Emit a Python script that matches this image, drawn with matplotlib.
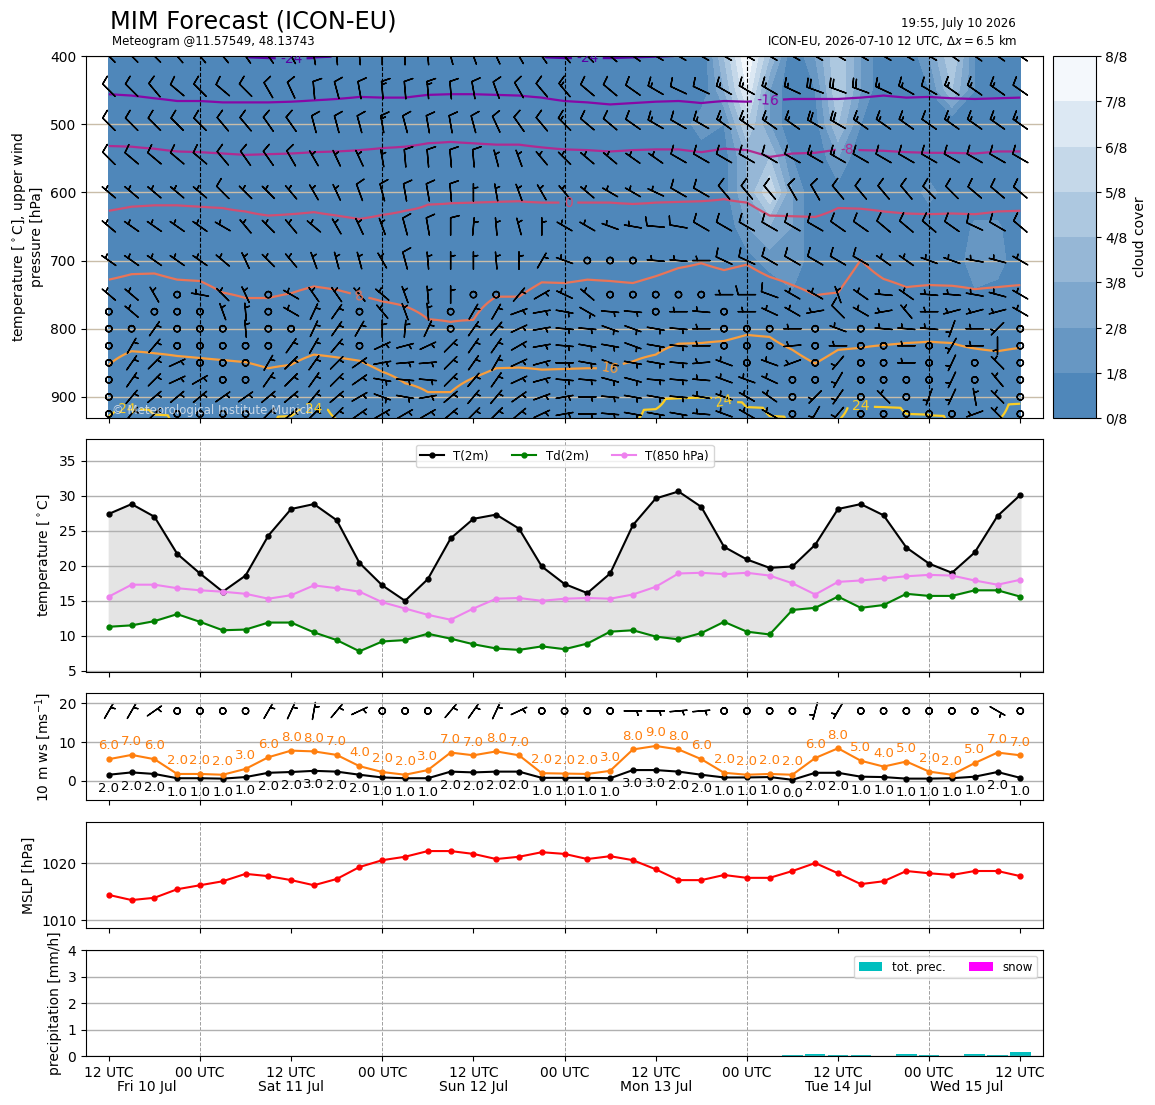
import numpy as np
import matplotlib
matplotlib.use("Agg")
import matplotlib.pyplot as plt
from matplotlib.colors import ListedColormap, to_rgb

# forecast steps (hours after 2026-07-10 12 UTC, every 3 h)
hours = np.arange(0, 121, 3)

time_ticks = [0, 12, 24, 36, 48, 60, 72, 84, 96, 108, 120]
time_labels = ["12 UTC", "00 UTC", "12 UTC", "00 UTC", "12 UTC", "00 UTC",
               "12 UTC", "00 UTC", "12 UTC", "00 UTC", "12 UTC"]
midnights = [12, 36, 60, 84, 108]
day_pos = [5, 24, 48, 72, 96, 113]
day_labels = ["Fri 10 Jul", "Sat 11 Jul", "Sun 12 Jul", "Mon 13 Jul", "Tue 14 Jul", "Wed 15 Jul"]

# ---- surface data
t2m = [27.4, 28.8, 27.0, 21.7, 18.9, 16.3, 18.6, 24.3, 28.1, 28.8, 26.5, 20.4, 17.2, 15.0,
       18.1, 23.9, 26.7, 27.3, 25.3, 19.9, 17.4, 16.1, 18.9, 25.8, 29.6, 30.6, 28.4, 22.7,
       20.9, 19.7, 19.9, 23.0, 28.1, 28.8, 27.2, 22.6, 20.3, 19.0, 21.9, 27.1, 30.1]
td2m = [11.3, 11.5, 12.1, 13.1, 12.0, 10.8, 10.9, 11.9, 11.9, 10.5, 9.4, 7.8, 9.2, 9.4,
        10.3, 9.6, 8.8, 8.2, 8.0, 8.5, 8.1, 8.9, 10.6, 10.8, 9.9, 9.5, 10.4, 12.0,
        10.6, 10.2, 13.7, 14.0, 15.6, 14.0, 14.4, 16.0, 15.7, 15.7, 16.5, 16.5, 15.6]
t850 = [15.6, 17.3, 17.3, 16.8, 16.5, 16.3, 16.0, 15.3, 15.8, 17.2, 16.8, 16.3, 14.8, 13.9,
        13.0, 12.3, 13.9, 15.3, 15.4, 15.0, 15.3, 15.4, 15.3, 15.9, 17.0, 18.9, 19.0, 18.8,
        19.0, 18.6, 17.5, 15.9, 17.7, 17.9, 18.2, 18.5, 18.7, 18.6, 17.9, 17.3, 18.0]
ws10 = [1.6, 2.2, 1.8, 0.7, 0.7, 0.6, 1.0, 2.1, 2.3, 2.6, 2.4, 1.6, 0.9, 0.7,
        0.7, 2.4, 2.2, 2.4, 2.4, 0.8, 0.8, 0.8, 0.7, 2.8, 2.8, 2.4, 1.6, 0.9,
        0.9, 1.0, 0.3, 2.1, 2.1, 1.1, 1.0, 0.6, 0.6, 0.7, 1.1, 2.3, 0.8]
gust10 = [5.6, 6.7, 5.6, 1.8, 1.8, 1.6, 3.1, 6.1, 7.8, 7.6, 6.7, 3.8, 2.3, 1.6,
          2.8, 7.3, 6.6, 7.6, 6.6, 2.0, 1.9, 1.8, 2.6, 8.1, 9.0, 8.1, 5.6, 2.1,
          1.6, 1.8, 1.6, 5.9, 8.4, 5.2, 3.7, 5.0, 2.4, 1.6, 4.6, 7.3, 6.6]
wdir10 = [30, 30, 55, 0, 0, 0, 0, 30, 25, 10, 40, 65, 0, 0,
          0, 40, 35, 25, 65, 0, 0, 0, 0, 90, 90, 85, 85, 0,
          0, 0, 0, 195, 210, 0, 0, 0, 0, 0, 0, 120, 0]
mslp = [1014.4, 1013.5, 1013.9, 1015.4, 1016.1, 1016.8, 1018.1, 1017.7, 1017.0, 1016.1,
        1017.2, 1019.3, 1020.5, 1021.1, 1022.1, 1022.1, 1021.6, 1020.7, 1021.1, 1021.9,
        1021.6, 1020.7, 1021.2, 1020.5, 1018.9, 1017.0, 1017.0, 1017.9, 1017.4, 1017.4,
        1018.6, 1020.0, 1018.2, 1016.3, 1016.8, 1018.6, 1018.2, 1017.9, 1018.6, 1018.6, 1017.7]
precip = [0, 0, 0, 0, 0, 0, 0, 0, 0, 0, 0, 0, 0, 0, 0, 0, 0, 0, 0, 0,
          0, 0, 0, 0, 0, 0, 0, 0, 0, 0, 0.04, 0.07, 0.04, 0.04, 0, 0.07, 0.03, 0, 0.08, 0.04, 0.15]
snow = [0] * 41

# ---- upper air: isotherm pressure [hPa] per step
iso_vals = [-24, -16, -8, 0, 8, 16, 24]
iso_m24 = [385, 385, 385, 385, 385, 385, 398, 403, 404, 402, 395, 385, 385, 385, 385, 385, 385,
           385, 385, 398, 403, 403, 403, 402, 401, 395, 385, 385, 385, 385, 385, 385, 385, 385,
           385, 385, 385, 385, 385, 385, 385]
iso_m16 = [456, 458, 462, 466, 466, 468, 468, 468, 467, 465, 463, 460, 461, 461, 457, 456, 456,
           457, 458, 461, 466, 468, 471, 469, 467, 466, 469, 466, 467, 465, 463, 463, 463, 461,
           458, 461, 460, 462, 463, 462, 461]
iso_m8 = [532, 533, 536, 540, 541, 543, 545, 544, 543, 541, 540, 538, 535, 533, 528, 526, 528,
          530, 530, 534, 537, 538, 540, 538, 537, 537, 541, 536, 538, 548, 543, 542, 537, 538,
          539, 541, 542, 542, 543, 540, 540]
iso_0 = [627, 621, 619, 619, 621, 623, 628, 634, 632, 629, 634, 639, 633, 627, 618, 616, 615,
         614, 613, 615, 615, 615, 615, 617, 615, 614, 613, 610, 615, 634, 635, 636, 623, 624,
         628, 631, 632, 631, 632, 628, 627]
iso_8 = [728, 720, 719, 728, 730, 747, 755, 755, 748, 738, 743, 752, 760, 767, 786, 790, 787,
         753, 753, 732, 733, 728, 730, 733, 723, 711, 704, 714, 706, 724, 736, 751, 747, 699,
         727, 739, 736, 737, 742, 739, 736]
iso_16 = [853, 833, 836, 840, 843, 846, 849, 858, 853, 838, 842, 847, 863, 880, 893, 893, 872,
          858, 857, 860, 859, 858, 858, 848, 838, 822, 821, 818, 809, 812, 831, 851, 831, 828,
          824, 821, 819, 821, 829, 833, 828]
iso_24 = [928, 918, 926, 945, 945, 945, 945, 945, 928, 918, 933, 945, 945, 945, 945, 945, 945,
          945, 945, 945, 945, 945, 945, 940, 918, 902, 901, 907, 915, 928, 945, 945, 935, 914,
          915, 925, 927, 945, 945, 935, 910]
iso_label_pos = [(24, 403), (63, 403), (86.7, 463), (97.2, 538), (60.5, 615), (33, 752),
                 (66, 858), (2.4, 918), (27, 919), (81, 907), (99, 913)]

# cloud cover (octas), steps 25..40, levels 400..750 hPa
cloud_p = [400, 450, 500, 550, 600, 650, 700, 750, 800, 850, 900, 950]
cc_400 = [0, 0, 4, 8, 4, 0, 2, 5, 2, 0, 0, 2, 5, 1, 0, 0]
cc_450 = [0, 0, 3, 7, 2, 0, 1, 5, 2, 0, 0, 1, 4, 1, 0, 0]
cc_500 = [0, 1.8, 1, 5, 2, 0, 0.5, 4, 1, 0, 0, 0, 0, 0, 0, 0]
cc_550 = [0, 0, 0.5, 3, 4, 1, 0, 2, 0, 0, 0, 0, 0, 0, 0, 0]
cc_600 = [0, 0, 0.5, 3, 6, 2, 0, 0.5, 0, 0, 0, 1.5, 0, 0, 0, 0]
cc_650 = [0, 0, 0, 2, 3, 2, 0, 0, 0, 0, 0, 0, 0, 1.2, 1.2, 0]
cc_700 = [0, 0, 0, 0.5, 1.5, 2, 0, 0, 0, 0, 0, 0, 0, 1.8, 1.6, 0]
cc_750 = [0, 0, 0, 0, 0, 0.8, 0, 0, 0, 0, 0, 0, 0, 0.8, 0.5, 0]

# wind barbs: direction (deg) and speed (kt) per level
plev = [400, 450, 500, 550, 600, 650, 700, 750, 775, 800, 825, 850, 875, 900, 925]
wdir_400 = [315, 315, 315, 320, 320, 320, 325, 325, 330, 350, 355, 355, 0, 0, 355, 345, 340, 335, 330, 325, 320,
            315, 310, 305, 300, 300, 300, 300, 300, 300, 300, 300, 300, 300, 300, 300, 300, 305, 305, 305, 305]
wspd_400 = [10, 10, 10, 10, 10, 10, 10, 10, 10, 10, 10, 10, 10, 10, 10, 10, 10, 10, 10, 10, 10,
            10, 10, 10, 15, 15, 15, 15, 15, 15, 15, 15, 15, 15, 15, 15, 15, 15, 15, 15, 15]
wdir_450 = [315, 315, 320, 310, 315, 310, 315, 330, 335, 355, 345, 350, 355, 355, 355, 355, 350, 340, 330, 320, 320,
            310, 310, 305, 300, 295, 295, 300, 300, 300, 295, 290, 290, 290, 295, 300, 300, 305, 305, 305, 305]
wspd_450 = [10, 10, 10, 10, 10, 10, 10, 10, 10, 10, 10, 10, 15, 10, 15, 10, 10, 10, 10, 10, 15,
            10, 10, 10, 15, 10, 10, 15, 15, 15, 15, 20, 20, 20, 15, 15, 10, 15, 15, 15, 10]
wdir_500 = [315, 315, 315, 315, 315, 320, 320, 325, 325, 345, 345, 345, 350, 345, 350, 350, 345, 335, 325, 320, 315,
            310, 310, 305, 300, 300, 300, 305, 305, 305, 305, 300, 300, 305, 305, 305, 305, 305, 305, 305, 305]
wspd_500 = [10, 10, 10, 10, 10, 10, 10, 10, 10, 10, 10, 10, 15, 10, 10, 10, 10, 10, 10, 10, 15,
            10, 10, 10, 15, 10, 15, 15, 15, 15, 15, 20, 20, 15, 15, 15, 10, 15, 15, 15, 15]
wdir_550 = [315, 310, 310, 310, 310, 320, 325, 325, 330, 330, 335, 335, 350, 355, 355, 355, 355, 345, 340, 320, 315,
            310, 310, 305, 305, 300, 300, 300, 300, 300, 300, 300, 300, 300, 300, 300, 300, 300, 300, 300, 300]
wspd_550 = [10, 10, 10, 10, 10, 10, 10, 10, 10, 5, 5, 5, 5, 10, 10, 10, 10, 5, 5, 5, 5,
            5, 5, 5, 5, 10, 10, 10, 10, 10, 10, 15, 15, 10, 10, 10, 10, 10, 10, 10, 10]
wdir_600 = [310, 310, 310, 310, 310, 315, 315, 315, 320, 330, 335, 340, 345, 350, 350, 355, 0, 350, 340, 330, 320,
            310, 300, 300, 295, 300, 300, 320, 320, 320, 330, 330, 320, 320, 320, 320, 315, 315, 310, 310, 310]
wspd_600 = [5, 5, 5, 5, 5, 10, 5, 5, 5, 5, 5, 10, 10, 10, 10, 10, 5, 5, 5, 5, 5,
            5, 5, 5, 5, 10, 10, 10, 10, 10, 10, 10, 10, 10, 10, 10, 10, 10, 10, 10, 10]
wdir_650 = [310, 305, 305, 305, 305, 300, 320, 315, 320, 310, 330, 335, 340, 345, 350, 0, 5, 355, 345, 0, 300,
            300, 290, 280, 275, 280, 300, 300, 300, 300, 300, 300, 305, 305, 310, 310, 310, 305, 295, 300, 310]
wspd_650 = [5, 5, 5, 5, 5, 5, 5, 5, 5, 5, 5, 5, 5, 10, 10, 10, 5, 5, 5, 5, 5,
            5, 5, 5, 10, 10, 10, 10, 10, 10, 10, 10, 10, 10, 10, 10, 10, 10, 10, 10, 10]
wdir_700 = [305, 305, 305, 305, 305, 310, 335, 315, 320, 340, 345, 345, 330, 345, 355, 0, 0, 355, 0, 30, 290,
            0, 0, 0, 275, 275, 270, 295, 295, 300, 300, 300, 300, 300, 305, 305, 290, 290, 280, 285, 300]
wspd_700 = [5, 5, 5, 5, 5, 5, 5, 5, 5, 5, 5, 5, 5, 10, 5, 5, 5, 5, 5, 5, 5,
            0, 0, 0, 5, 5, 5, 10, 10, 10, 10, 10, 10, 10, 5, 5, 5, 5, 5, 5, 5]
wdir_750 = [310, 310, 330, 0, 280, 315, 335, 0, 300, 325, 325, 320, 310, 340, 355, 0, 0, 0, 40, 60, 295,
            310, 0, 0, 0, 0, 0, 270, 270, 290, 300, 300, 340, 305, 275, 305, 275, 275, 280, 285, 300]
wspd_750 = [5, 5, 5, 0, 5, 5, 5, 0, 5, 5, 5, 5, 5, 5, 5, 5, 0, 0, 5, 5, 5,
            5, 0, 0, 0, 0, 0, 5, 10, 10, 5, 5, 5, 5, 5, 5, 5, 5, 5, 5, 5]
wdir_775 = [0, 310, 0, 0, 0, 340, 355, 0, 300, 25, 35, 0, 320, 340, 355, 0, 30, 30, 70, 80, 100,
            120, 95, 95, 0, 270, 275, 0, 270, 295, 300, 260, 315, 300, 260, 320, 270, 255, 255, 255, 300]
wspd_775 = [0, 5, 0, 0, 0, 5, 5, 0, 5, 5, 5, 0, 5, 5, 5, 0, 5, 5, 5, 5, 5,
            5, 5, 5, 0, 5, 5, 0, 5, 5, 5, 5, 10, 5, 5, 5, 5, 5, 5, 5, 5]
wdir_800 = [0, 0, 35, 0, 0, 0, 355, 0, 0, 25, 35, 30, 0, 5, 25, 0, 35, 40, 65, 80, 95,
            95, 110, 110, 100, 95, 270, 0, 0, 0, 270, 0, 290, 0, 275, 275, 275, 200, 270, 225, 0]
wspd_800 = [0, 0, 5, 0, 0, 0, 5, 0, 0, 5, 5, 5, 5, 5, 5, 0, 5, 5, 5, 5, 5,
            5, 5, 5, 5, 5, 5, 0, 0, 0, 5, 0, 5, 0, 5, 5, 5, 5, 5, 5, 0]
wdir_825 = [0, 30, 40, 0, 0, 0, 0, 0, 35, 30, 40, 0, 65, 75, 65, 45, 35, 35, 60, 80, 95,
            100, 100, 110, 100, 95, 270, 0, 0, 0, 265, 0, 270, 0, 0, 270, 0, 210, 270, 180, 0]
wspd_825 = [0, 5, 5, 0, 0, 0, 0, 0, 5, 5, 5, 0, 5, 5, 5, 5, 5, 5, 5, 5, 5,
            5, 5, 5, 5, 5, 5, 0, 0, 0, 5, 0, 5, 0, 0, 5, 0, 5, 5, 5, 0]
wdir_850 = [0, 35, 45, 65, 0, 0, 0, 30, 45, 35, 45, 55, 80, 85, 85, 45, 35, 30, 65, 75, 90,
            100, 110, 100, 100, 95, 265, 290, 0, 290, 250, 0, 220, 0, 0, 270, 0, 205, 0, 315, 0]
wspd_850 = [0, 5, 5, 5, 0, 0, 0, 5, 5, 5, 5, 5, 5, 5, 5, 5, 5, 5, 5, 5, 5,
            5, 5, 5, 5, 5, 5, 5, 0, 5, 5, 0, 5, 0, 0, 5, 0, 5, 0, 5, 0]
wdir_875 = [0, 35, 45, 65, 60, 0, 0, 35, 45, 35, 45, 55, 100, 95, 95, 45, 40, 35, 65, 75, 95,
            95, 105, 105, 95, 95, 275, 290, 290, 295, 0, 0, 210, 0, 0, 0, 0, 205, 0, 320, 0]
wspd_875 = [0, 5, 5, 5, 5, 0, 0, 5, 5, 5, 5, 5, 5, 5, 5, 5, 5, 5, 5, 5, 5,
            5, 5, 5, 5, 5, 5, 5, 5, 5, 0, 0, 5, 0, 0, 0, 0, 5, 0, 5, 0]
wdir_900 = [0, 40, 50, 50, 50, 55, 55, 50, 50, 40, 50, 60, 110, 100, 80, 50, 40, 40, 55, 70, 80,
            90, 95, 100, 100, 95, 280, 290, 300, 305, 0, 225, 215, 0, 315, 0, 200, 205, 350, 315, 0]
wspd_900 = [0, 5, 5, 5, 5, 5, 5, 5, 5, 5, 5, 5, 5, 5, 5, 5, 5, 5, 5, 5, 5,
            5, 5, 5, 5, 5, 5, 5, 5, 5, 0, 5, 5, 0, 5, 0, 5, 5, 5, 5, 0]
wdir_925 = [0, 40, 45, 0, 0, 0, 0, 45, 50, 45, 45, 55, 60, 60, 60, 50, 45, 45, 50, 65, 80,
            90, 95, 100, 100, 100, 275, 290, 300, 300, 0, 210, 220, 0, 0, 0, 0, 0, 250, 315, 0]
wspd_925 = [0, 5, 5, 0, 0, 0, 0, 5, 5, 5, 5, 5, 5, 5, 5, 5, 5, 5, 5, 5, 5,
            5, 5, 5, 5, 5, 5, 5, 5, 5, 0, 5, 5, 0, 0, 0, 0, 0, 5, 5, 0]

wdir = np.array([wdir_400, wdir_450, wdir_500, wdir_550, wdir_600, wdir_650, wdir_700, wdir_750,
                 wdir_775, wdir_800, wdir_825, wdir_850, wdir_875, wdir_900, wdir_925], float)
wspd = np.array([wspd_400, wspd_450, wspd_500, wspd_550, wspd_600, wspd_650, wspd_700, wspd_750,
                 wspd_775, wspd_800, wspd_825, wspd_850, wspd_875, wspd_900, wspd_925], float)
U = -wspd * np.sin(np.deg2rad(wdir))
V = -wspd * np.cos(np.deg2rad(wdir))

# temperature field from the isotherm heights
iso = np.array([iso_m24, iso_m16, iso_m8, iso_0, iso_8, iso_16, iso_24], float)
p_fine = np.arange(380, 952, 1.0)
T = np.empty((len(p_fine), len(hours)))
for j in range(len(hours)):
    T[:, j] = np.interp(p_fine, iso[:, j], iso_vals, left=-26, right=26)

cloud = np.zeros((len(cloud_p), len(hours)))
cloud[:8, 25:] = [cc_400, cc_450, cc_500, cc_550, cc_600, cc_650, cc_700, cc_750]

# colours
c0, c1 = np.array(to_rgb("#4f87ba")), np.array(to_rgb("#f4f8fc"))
cloud_cmap = ListedColormap([c0 + (c1 - c0) * k / 7 for k in range(8)])
iso_colors = plt.cm.plasma(np.linspace(0.15, 0.9, 7))
barb_sizes = dict(emptybarb=0.18, height=0.5, spacing=0.18)

fig = plt.figure(figsize=(11.55, 11.05), dpi=100)
L, W = 0.0745, 0.8286
ax1 = fig.add_axes([L, 0.6217, W, 0.3276])
cax = fig.add_axes([0.9113, 0.6217, 0.0372, 0.3276])
ax2 = fig.add_axes([L, 0.3919, W, 0.2109])
ax3 = fig.add_axes([L, 0.2760, W, 0.0968])
ax4 = fig.add_axes([L, 0.1602, W, 0.0959])
ax5 = fig.add_axes([L, 0.0443, W, 0.0959])


def time_axis(ax, labels=False, grid=True):
    ax.set_xlim(-3, 123)
    ax.set_xticks(time_ticks)
    if labels:
        ax.set_xticklabels(time_labels)
        for x, d in zip(day_pos, day_labels):
            ax.text(x, -0.29, d, transform=ax.get_xaxis_transform(), ha="center", va="center")
    else:
        ax.tick_params(axis="x", labelbottom=False)
    if grid:
        for h in midnights:
            ax.axvline(h, ls="--", color="#a0a0a0", lw=0.7, zorder=0.5)
        ax.grid(axis="y", color="#b0b0b0", lw=1)


# ---- top panel: clouds, isotherms, wind barbs
cf = ax1.contourf(hours, cloud_p, cloud / 8, levels=np.arange(9) / 8, cmap=cloud_cmap)
cs = ax1.contour(hours, p_fine, T, levels=iso_vals, colors=iso_colors, linewidths=1.6)
txts = ax1.clabel(cs, manual=iso_label_pos, inline=True, fmt="%d", fontsize=10)
for t in txts:
    t.set_clip_on(True)
H, P = np.meshgrid(hours, plev)
ax1.barbs(H, P, U, V, length=5, pivot="middle", linewidth=1.0, sizes=barb_sizes, zorder=3)
ax1.set_ylim(931, 400)
ax1.set_yticks([400, 500, 600, 700, 800, 900])
ax1.grid(axis="y", color="#c9bda9", lw=1)
for h in midnights:
    ax1.axvline(h, color="k", ls="--", lw=0.8, zorder=2)
time_axis(ax1, grid=False)
ax1.set_ylabel("temperature [$^\\circ$C], upper wind\npressure [hPa]")
ax1.text(0.027, 0.022, "\u00a9 Meteorological Institute Munich", transform=ax1.transAxes,
         fontsize=8.5, color="#dde4ec", alpha=0.85, va="center", zorder=4)

cb = fig.colorbar(cf, cax=cax, ticks=np.arange(9) / 8)
cb.set_ticklabels([f"{k}/8" for k in range(9)])
cb.set_label("cloud cover")

# ---- temperatures
ax2.fill_between(hours, t2m, td2m, color="#e4e4e4")
ax2.plot(hours, t2m, color="k", marker=".", ms=7, label="T(2m)")
ax2.plot(hours, td2m, color="green", marker=".", ms=7, label="Td(2m)")
ax2.plot(hours, t850, color="violet", marker=".", ms=7, label="T(850 hPa)")
ax2.set_ylim(4.85, 38.1)
ax2.set_yticks([5, 10, 15, 20, 25, 30, 35])
ax2.set_ylabel("temperature [$^\\circ$C]")
ax2.legend(loc="upper center", ncol=3, fontsize=8.5)
time_axis(ax2)

# ---- 10 m wind
ax3.plot(hours, ws10, color="k", marker=".", ms=7)
ax3.plot(hours, gust10, color="tab:orange", marker=".", ms=7)
for h, v in zip(hours, ws10):
    ax3.annotate(f"{round(v):.1f}", (h, v), xytext=(0, -10), textcoords="offset points",
                 ha="center", va="center", fontsize=9.5)
for h, v in zip(hours, gust10):
    ax3.annotate(f"{round(v):.1f}", (h, v), xytext=(0, 9.5), textcoords="offset points",
                 ha="center", va="center", fontsize=9.5, color="tab:orange")
kt10 = np.array(ws10) * 1.944
u10 = -kt10 * np.sin(np.deg2rad(wdir10))
v10 = -kt10 * np.cos(np.deg2rad(wdir10))
ax3.barbs(hours, np.full(len(hours), 18.0), u10, v10, length=5, pivot="middle",
          linewidth=1.0, sizes=barb_sizes)
ax3.set_ylim(-4.9, 22.6)
ax3.set_yticks([0, 10, 20])
ax3.set_ylabel("10 m ws [ms$^{-1}$]")
time_axis(ax3)

# ---- MSLP
ax4.plot(hours, mslp, color="red", marker=".", ms=7)
ax4.set_ylim(1008.6, 1027.2)
ax4.set_yticks([1010, 1020])
ax4.set_ylabel("MSLP [hPa]")
time_axis(ax4)

# ---- precipitation
ax5.bar(hours, precip, width=2.7, color="c", label="tot. prec.")
ax5.bar(hours, snow, width=2.7, color="magenta", label="snow")
ax5.set_ylim(0, 4)
ax5.set_yticks([0, 1, 2, 3, 4])
ax5.set_ylabel("precipitation [mm/h]")
ax5.legend(loc="upper right", ncol=2, fontsize=8.5)
time_axis(ax5, labels=True)

# ---- header
fig.text(110 / 1155, 1 - 21 / 1105, "MIM Forecast (ICON-EU)", fontsize=17.3, va="center")
fig.text(112 / 1155, 1 - 41 / 1105, "Meteogram @11.57549, 48.13743", fontsize=8.5, va="center")
fig.text(1016 / 1155, 1 - 23 / 1105, "19:55, July 10 2026", fontsize=8.5, ha="right", va="center")
fig.text(1018 / 1155, 1 - 41 / 1105, "ICON-EU, 2026-07-10 12 UTC, $\\Delta x = 6.5$ km",
         fontsize=8.5, ha="right", va="center")

fig.savefig("out.png", dpi=100)
